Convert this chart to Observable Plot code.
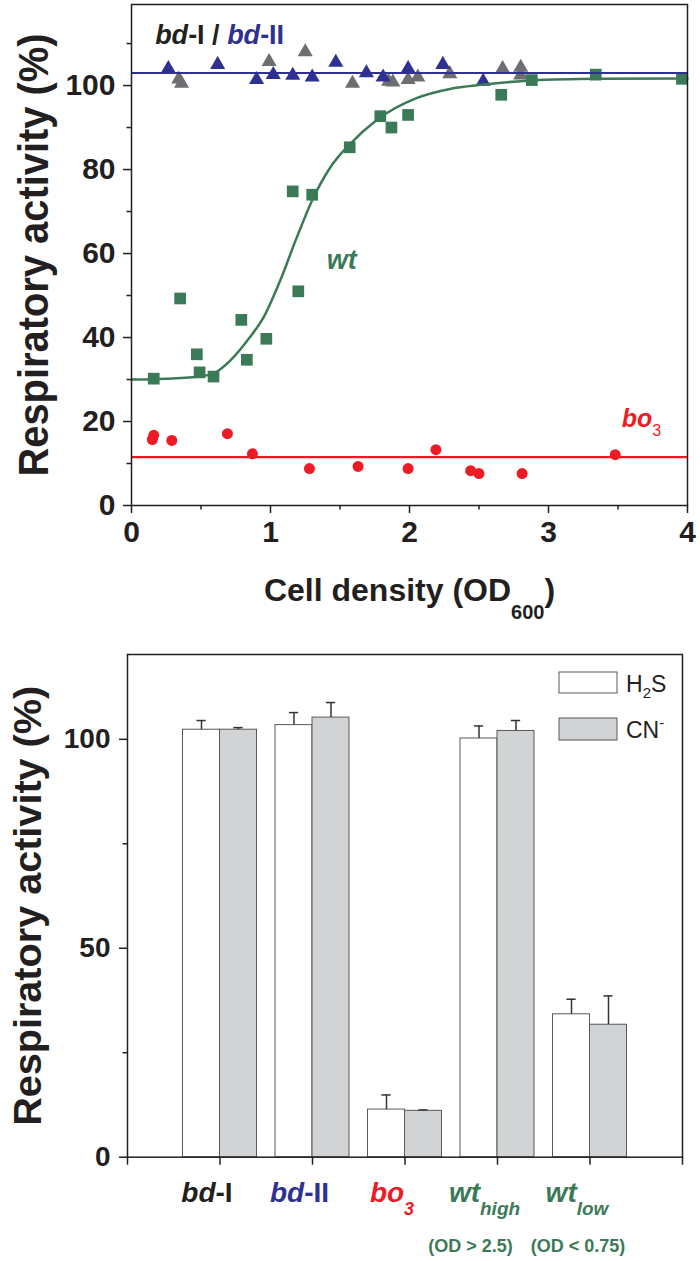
<!DOCTYPE html>
<html><head><meta charset="utf-8">
<script src="https://cdn.jsdelivr.net/npm/d3@7"></script>
<script src="https://cdn.jsdelivr.net/npm/@observablehq/plot@0.6"></script>
<style>
html,body{margin:0;padding:0;background:#fff;}
#wrap{position:relative;width:700px;height:1261px;overflow:hidden;background:#fff;}
#wrap svg{position:absolute;left:0;display:block;}
</style></head><body><div id="wrap"></div>
<script>
// ---------- Panel A data ----------
const bd1X = [0.34, 0.36, 0.99, 1.25, 1.59, 1.85, 1.88, 1.99, 2.06, 2.29, 2.67, 2.80, 2.80];
const bd1Y = [101.5, 100.5, 105.7, 108.0, 100.5, 101.0, 100.8, 101.4, 102.0, 102.8, 104.0, 104.3, 102.5];
const bd2X = [0.265, 0.62, 0.90, 1.02, 1.16, 1.30, 1.47, 1.69, 1.81, 1.99, 2.24, 2.53];
const bd2Y = [104.0, 105.0, 101.4, 102.6, 102.4, 102.0, 105.5, 103.0, 102.0, 104.0, 105.0, 101.0];
const wtX = [0.16, 0.35, 0.47, 0.49, 0.59, 0.79, 0.83, 0.97, 1.16, 1.20, 1.30, 1.57, 1.79, 1.87, 1.99, 2.66, 2.88, 3.34, 3.96];
const wtY = [30.2, 49.3, 36.0, 31.7, 30.7, 44.2, 34.7, 39.7, 74.8, 51.0, 74.0, 85.3, 92.7, 90.0, 93.0, 97.8, 101.3, 102.6, 101.6];
const bo3X = [0.15, 0.16, 0.29, 0.69, 0.87, 1.28, 1.63, 1.99, 2.19, 2.44, 2.50, 2.81, 3.48];
const bo3Y = [15.7, 16.7, 15.5, 17.1, 12.3, 8.8, 9.3, 8.8, 13.3, 8.3, 7.6, 7.6, 12.1];
const fitX = [0, 0.25, 0.5, 0.6, 0.71, 0.85, 0.95, 1.07, 1.19, 1.31, 1.43, 1.57, 1.76, 2.05, 2.29, 2.52, 2.88, 3.36, 4.0];
const fitY = [30.0, 30.2, 30.8, 31.6, 34.5, 40.0, 44.8, 53.6, 63.9, 73.4, 80.5, 86.0, 91.7, 97.0, 99.2, 100.2, 101.2, 101.6, 101.7];
const bdLevel = [103];
const bo3Level = [11.5];
const xTicksA = [0, 1, 2, 3, 4];
const xMinorA = [0.5, 1.5, 2.5, 3.5];
const yTicksA = [0, 20, 40, 60, 80, 100];
const yMinorA = [10, 30, 50, 70, 90, 110];

// ---------- Panel B data ----------
const categories = ["bd-I", "bd-II", "bo3", "wt_high", "wt_low"];
const subLabels = ["", "", "", "(OD > 2.5)", "(OD < 0.75)"];
const h2sValues = [102.3, 103.4, 11.4, 100.2, 34.2];
const h2sErrors = [2.2, 3.0, 3.5, 3.0, 3.6];
const cnValues = [102.3, 105.2, 11.1, 102.0, 31.7];
const cnErrors = [0.5, 3.6, 0.2, 2.5, 6.9];
const yTicksB = [0, 50, 100];
const yMinorB = [25, 75];

// ---------- styles ----------
const FONT = "'Liberation Sans', Arial, Helvetica, sans-serif";
const ink = "#231f20", blue = "#2e3192", grey = "#6d6e71", green = "#3b7a57", red = "#ed1c24";

const pts = (X, Y) => X.map((x, i) => ({x, y: Y[i]}));
const bd1 = pts(bd1X, bd1Y), bd2 = pts(bd2X, bd2Y), wt = pts(wtX, wtY), bo3 = pts(bo3X, bo3Y), fit = pts(fitX, fitY);

function build(t, segs) {
  const s = d3.select(t); s.text(null);
  for (const g of segs) {
    const ts = s.append("tspan").text(g.t);
    if (g.i) ts.attr("font-style", "italic");
    if (g.fill) ts.attr("fill", g.fill);
    if (g.size) ts.attr("font-size", g.size);
    if (g.dy) ts.attr("dy", g.dy);
    if (g.w) ts.attr("font-weight", g.w);
  }
}
function richify(svg, map) {
  svg.querySelectorAll("text").forEach(t => { const k = t.textContent; if (map[k]) build(t, map[k]); });
}
function fitTitle(svg, label, len) {
  svg.querySelectorAll("text").forEach(t => {
    if (t.textContent === label) {
      t.setAttribute("text-anchor", "start");
      t.setAttribute("x", -len / 2);
      t.setAttribute("textLength", len);
      t.setAttribute("lengthAdjust", "spacingAndGlyphs");
    }
  });
}

const axisStyle = {stroke: ink, strokeWidth: 1.5, fill: ink, label: null};
const intFmt = d => String(d);

// ---------- Panel A ----------
const A = Plot.plot({
  width: 700, height: 630,
  marginLeft: 131, marginRight: 13, marginTop: 4, marginBottom: 125,
  x: {domain: [0, 4], label: null},
  y: {domain: [0, 119.3], label: null},
  style: {fontFamily: FONT, background: "white", color: ink},
  marks: [
    Plot.axisY({...axisStyle, ticks: yTicksA, tickFormat: intFmt, tickSize: 8, tickPadding: 8, fontSize: 30, fontWeight: "bold"}),
    Plot.axisY({...axisStyle, ticks: yMinorA, tickSize: 4.5, tickFormat: () => ""}),
    Plot.axisX({...axisStyle, ticks: xTicksA, tickFormat: intFmt, tickSize: 8, tickPadding: 7, fontSize: 30, fontWeight: "bold"}),
    Plot.axisX({...axisStyle, ticks: xMinorA, tickSize: 4.5, tickFormat: () => ""}),
    Plot.dot(bd1, {x: "x", y: "y", symbol: "triangle", r: 5.6, fill: grey}),
    Plot.dot(bd2, {x: "x", y: "y", symbol: "triangle", r: 5.6, fill: blue}),
    Plot.dot(wt, {x: "x", y: "y", symbol: "square", r: 6.6, fill: green}),
    Plot.dot(bo3, {x: "x", y: "y", r: 5.5, fill: red}),
    Plot.line(fit, {x: "x", y: "y", curve: "monotone-x", stroke: green, strokeWidth: 2.5}),
    Plot.ruleY(bdLevel, {stroke: blue, strokeWidth: 2}),
    Plot.ruleY(bo3Level, {stroke: red, strokeWidth: 2.2}),
    Plot.frame({stroke: ink, strokeWidth: 1.5}),
    Plot.text(["bd-I / bd-II"], {x: 0.17, y: 109.8, text: d => d, textAnchor: "start", lineAnchor: "bottom", fontSize: 27, fontWeight: "bold", fill: ink}),
    Plot.text(["wt"], {x: 1.405, y: 56.4, text: d => d, textAnchor: "start", lineAnchor: "bottom", fontSize: 27, fontWeight: "bold", fontStyle: "italic", fill: green}),
    Plot.text(["bo3"], {x: 3.527, y: 18.6, text: d => d, textAnchor: "start", lineAnchor: "bottom", fontSize: 25, fontWeight: "bold", fill: red}),
    Plot.text(["Cell density (OD600)"], {frameAnchor: "bottom", dy: 95, text: d => d, lineAnchor: "bottom", fontSize: 32, fontWeight: "bold", fill: ink}),
    Plot.text(["Respiratory activity (%)"], {frameAnchor: "left", dx: -84, rotate: -90, text: d => d, lineAnchor: "bottom", fontSize: 42, fontWeight: "bold", fill: ink})
  ]
});
richify(A, {
  "bd-I / bd-II": [{t: "bd", i: 1, fill: ink}, {t: "-I / ", fill: ink}, {t: "bd", i: 1, fill: blue}, {t: "-II", fill: blue}],
  "bo3": [{t: "bo", i: 1}, {t: "3", size: 16, dy: 9, w: "normal"}],
  "Cell density (OD600)": [{t: "Cell density (OD"}, {t: "600", size: 20, dy: 18}, {t: ")", dy: -18}]
});
fitTitle(A, "Respiratory activity (%)", 443);
A.style.top = "0px";
document.getElementById("wrap").appendChild(A);

// ---------- Panel B ----------
const h2s = categories.map((c, k) => ({c, i: k + 1, v: h2sValues[k], e: h2sErrors[k]}));
const cn = categories.map((c, k) => ({c, i: k + 1, v: cnValues[k], e: cnErrors[k]}));
const barStroke = "#58595b", errInk = "#333";

const B = Plot.plot({
  width: 700, height: 631,
  marginLeft: 127, marginRight: 18, marginTop: 24, marginBottom: 104.3,
  x: {domain: [0, 6], label: null},
  y: {domain: [0, 120.3], label: null},
  style: {fontFamily: FONT, background: "white", color: ink},
  marks: [
    Plot.rect(h2s, {x1: d => d.i - 0.4, x2: d => d.i, y1: 0, y2: "v", fill: "white", stroke: barStroke, strokeWidth: 1}),
    Plot.rect(cn, {x1: d => d.i, x2: d => d.i + 0.4, y1: 0, y2: "v", fill: "#d1d3d4", stroke: barStroke, strokeWidth: 1}),
    Plot.ruleX(h2s, {x: d => d.i - 0.2, y1: "v", y2: d => d.v + d.e, stroke: errInk, strokeWidth: 1.5}),
    Plot.ruleY(h2s, {y: d => d.v + d.e, x1: d => d.i - 0.25, x2: d => d.i - 0.15, stroke: errInk, strokeWidth: 1.5}),
    Plot.ruleX(cn, {x: d => d.i + 0.2, y1: "v", y2: d => d.v + d.e, stroke: errInk, strokeWidth: 1.5}),
    Plot.ruleY(cn, {y: d => d.v + d.e, x1: d => d.i + 0.15, x2: d => d.i + 0.25, stroke: errInk, strokeWidth: 1.5}),
    Plot.axisY({...axisStyle, ticks: yTicksB, tickFormat: intFmt, tickSize: 8, tickPadding: 9, fontSize: 28, fontWeight: "bold"}),
    Plot.axisY({...axisStyle, ticks: yMinorB, tickSize: 4.5, tickFormat: () => ""}),
    Plot.axisX({...axisStyle, ticks: d3.range(0, 7), tickSize: 8, tickFormat: () => ""}),
    Plot.frame({stroke: ink, strokeWidth: 1.5}),
    Plot.text(categories, {x: (d, k) => k + 1, y: 0, dy: 45, dx: -13, text: d => d, lineAnchor: "bottom", fontSize: 28, fontWeight: "bold", fill: ink}),
    Plot.text(subLabels, {filter: (d, k) => k === 3, x: (d, k) => k + 1, y: 0, dy: 95, dx: -27, text: d => d, lineAnchor: "bottom", fontSize: 18, fontWeight: "bold", fill: green}),
    Plot.text(subLabels, {filter: (d, k) => k === 4, x: (d, k) => k + 1, y: 0, dy: 95, dx: -12, text: d => d, lineAnchor: "bottom", fontSize: 18, fontWeight: "bold", fill: green}),
    Plot.text(["Respiratory activity (%)"], {frameAnchor: "left", dx: -87, rotate: -90, text: d => d, lineAnchor: "bottom", fontSize: 38, fontWeight: "bold", fill: ink})
  ]
});
richify(B, {
  "bd-I": [{t: "bd", i: 1, fill: ink}, {t: "-I", fill: ink}],
  "bd-II": [{t: "bd", i: 1, fill: blue}, {t: "-II", fill: blue}],
  "bo3": [{t: "bo", i: 1, fill: red}, {t: "3", i: 1, size: 18, dy: 13, fill: red}],
  "wt_high": [{t: "wt", i: 1, fill: green}, {t: "high", i: 1, size: 19, dy: 13, fill: green}],
  "wt_low": [{t: "wt", i: 1, fill: green}, {t: "low", i: 1, size: 19, dy: 13, fill: green}]
});
fitTitle(B, "Respiratory activity (%)", 440);
// legend inside the frame
const lg = d3.select(B).append("g").attr("font-family", FONT).attr("fill", ink).attr("text-anchor", "start");
lg.append("rect").attr("x", 559).attr("y", 42).attr("width", 58).attr("height", 21).attr("fill", "white").attr("stroke", barStroke);
lg.append("rect").attr("x", 559).attr("y", 88).attr("width", 58).attr("height", 22).attr("fill", "#d1d3d4").attr("stroke", barStroke);
const t1 = lg.append("text").attr("x", 626).attr("y", 61.7).attr("font-size", 23);
t1.append("tspan").text("H"); t1.append("tspan").text("2").attr("font-size", 15).attr("dy", 6); t1.append("tspan").text("S").attr("dy", -6);
const t2 = lg.append("text").attr("x", 626).attr("y", 108).attr("font-size", 23);
t2.append("tspan").text("CN"); t2.append("tspan").text("-").attr("font-size", 15).attr("dy", -10.5);
B.style.top = "630px";
document.getElementById("wrap").appendChild(B);
</script>
</body></html>
